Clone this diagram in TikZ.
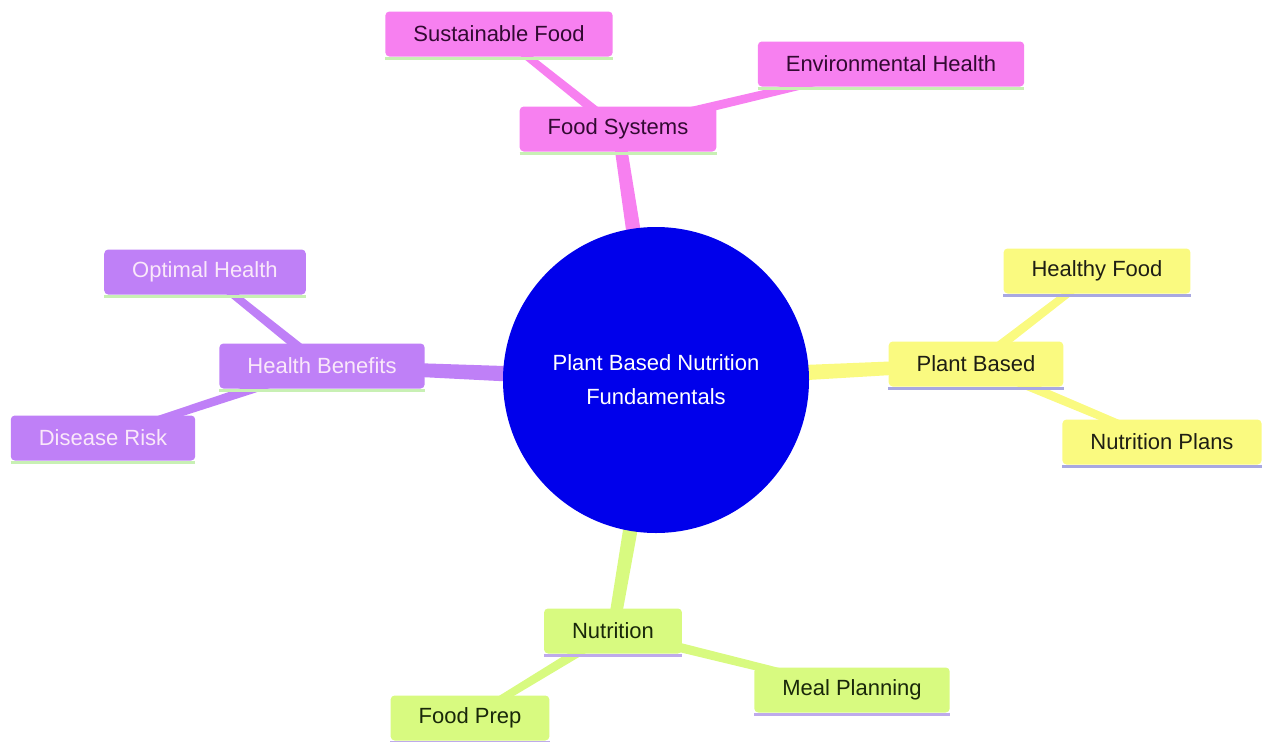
\documentclass[tikz,border=0pt]{standalone}
\usepackage{fontspec}
\setmainfont{Liberation Sans}
\usetikzlibrary{calc}
\pgfdeclarelayer{bg}
\pgfsetlayers{bg,main}
\definecolor{pinkf}{RGB}{247,128,240}
\definecolor{purplef}{RGB}{191,128,247}
\definecolor{yellowf}{RGB}{250,250,128}
\definecolor{greenf}{RGB}{216,250,128}
\definecolor{rootblue}{RGB}{0,0,235}
\definecolor{pinkt}{RGB}{50,10,50}
\definecolor{purplet}{RGB}{250,232,250}
\definecolor{yellowt}{RGB}{30,30,20}
\definecolor{greent}{RGB}{25,40,10}
\definecolor{lgreen}{RGB}{200,240,180}
\definecolor{lav}{RGB}{168,168,225}
\definecolor{lav2}{RGB}{190,170,235}
\newcommand{\taper}[5]{%
  \fill[#1] ($(#2.center)!#4!90:(#3.center)$) -- ($(#3.center)!#5!-90:(#2.center)$) --
    ($(#3.center)!#5!90:(#2.center)$) -- ($(#2.center)!#4!-90:(#3.center)$) -- cycle;}
\begin{document}
\begin{tikzpicture}[x=1pt,y=-1pt,
  box/.style={rounded corners=4pt, inner xsep=28pt, inner ysep=0pt, minimum height=45pt,
    font=\fontsize{22}{26}\selectfont},
  pinkbox/.style={box, fill=pinkf, text=pinkt},
  purplebox/.style={box, fill=purplef, text=purplet},
  yellowbox/.style={box, fill=yellowf, text=yellowt},
  greenbox/.style={box, fill=greenf, text=greent},
  rootnode/.style={circle, fill=rootblue, minimum size=306pt, inner sep=0pt, text=white,
    align=center, font=\fontsize{22}{34}\selectfont}]
\useasboundingbox (0,0) rectangle (1262,742);
\node[rootnode] (root) at (656,380) {Plant Based Nutrition\\Fundamentals};
% Food Systems
\node[pinkbox] (fs) at (618,129) {Food Systems};
\node[pinkbox] (sf) at (499,34) {Sustainable Food};
\node[pinkbox] (eh) at (891,64) {Environmental Health};
% Health Benefits
\node[purplebox] (hb) at (322,366) {Health Benefits};
\node[purplebox] (oh) at (205,272) {Optimal Health};
\node[purplebox] (dr) at (103,438) {Disease Risk};
% Plant Based
\node[yellowbox] (pb) at (976,364) {Plant Based};
\node[yellowbox] (hf) at (1097,271) {Healthy Food};
\node[yellowbox] (np) at (1162,442) {Nutrition Plans};
% Nutrition
\node[greenbox] (nu) at (613,631) {Nutrition};
\node[greenbox] (fp) at (470,718) {Food Prep};
\node[greenbox] (mp) at (852,690) {Meal Planning};
\foreach \n/\c in {fs/lgreen,sf/lgreen,eh/lgreen,hb/lgreen,oh/lgreen,dr/lgreen,
    pb/lav,hf/lav,np/lav,nu/lav2,fp/lav2,mp/lav2}
  \draw[\c, line width=3pt] ([yshift=-1.5pt]\n.south west) -- ([yshift=-1.5pt]\n.south east);
\begin{pgfonlayer}{bg}
  \taper{pinkf}{root}{fs}{9pt}{6pt}
  \taper{purplef}{root}{hb}{9pt}{6pt}
  \taper{yellowf}{root}{pb}{9pt}{6pt}
  \taper{greenf}{root}{nu}{9pt}{6pt}
  \taper{pinkf}{fs}{sf}{5pt}{3.5pt}
  \taper{pinkf}{fs}{eh}{5pt}{3.5pt}
  \taper{purplef}{hb}{oh}{5pt}{3.5pt}
  \taper{purplef}{hb}{dr}{5pt}{3.5pt}
  \taper{yellowf}{pb}{hf}{5pt}{3.5pt}
  \taper{yellowf}{pb}{np}{5pt}{3.5pt}
  \taper{greenf}{nu}{fp}{5pt}{3.5pt}
  \taper{greenf}{nu}{mp}{5pt}{3.5pt}
\end{pgfonlayer}
\end{tikzpicture}
\end{document}
